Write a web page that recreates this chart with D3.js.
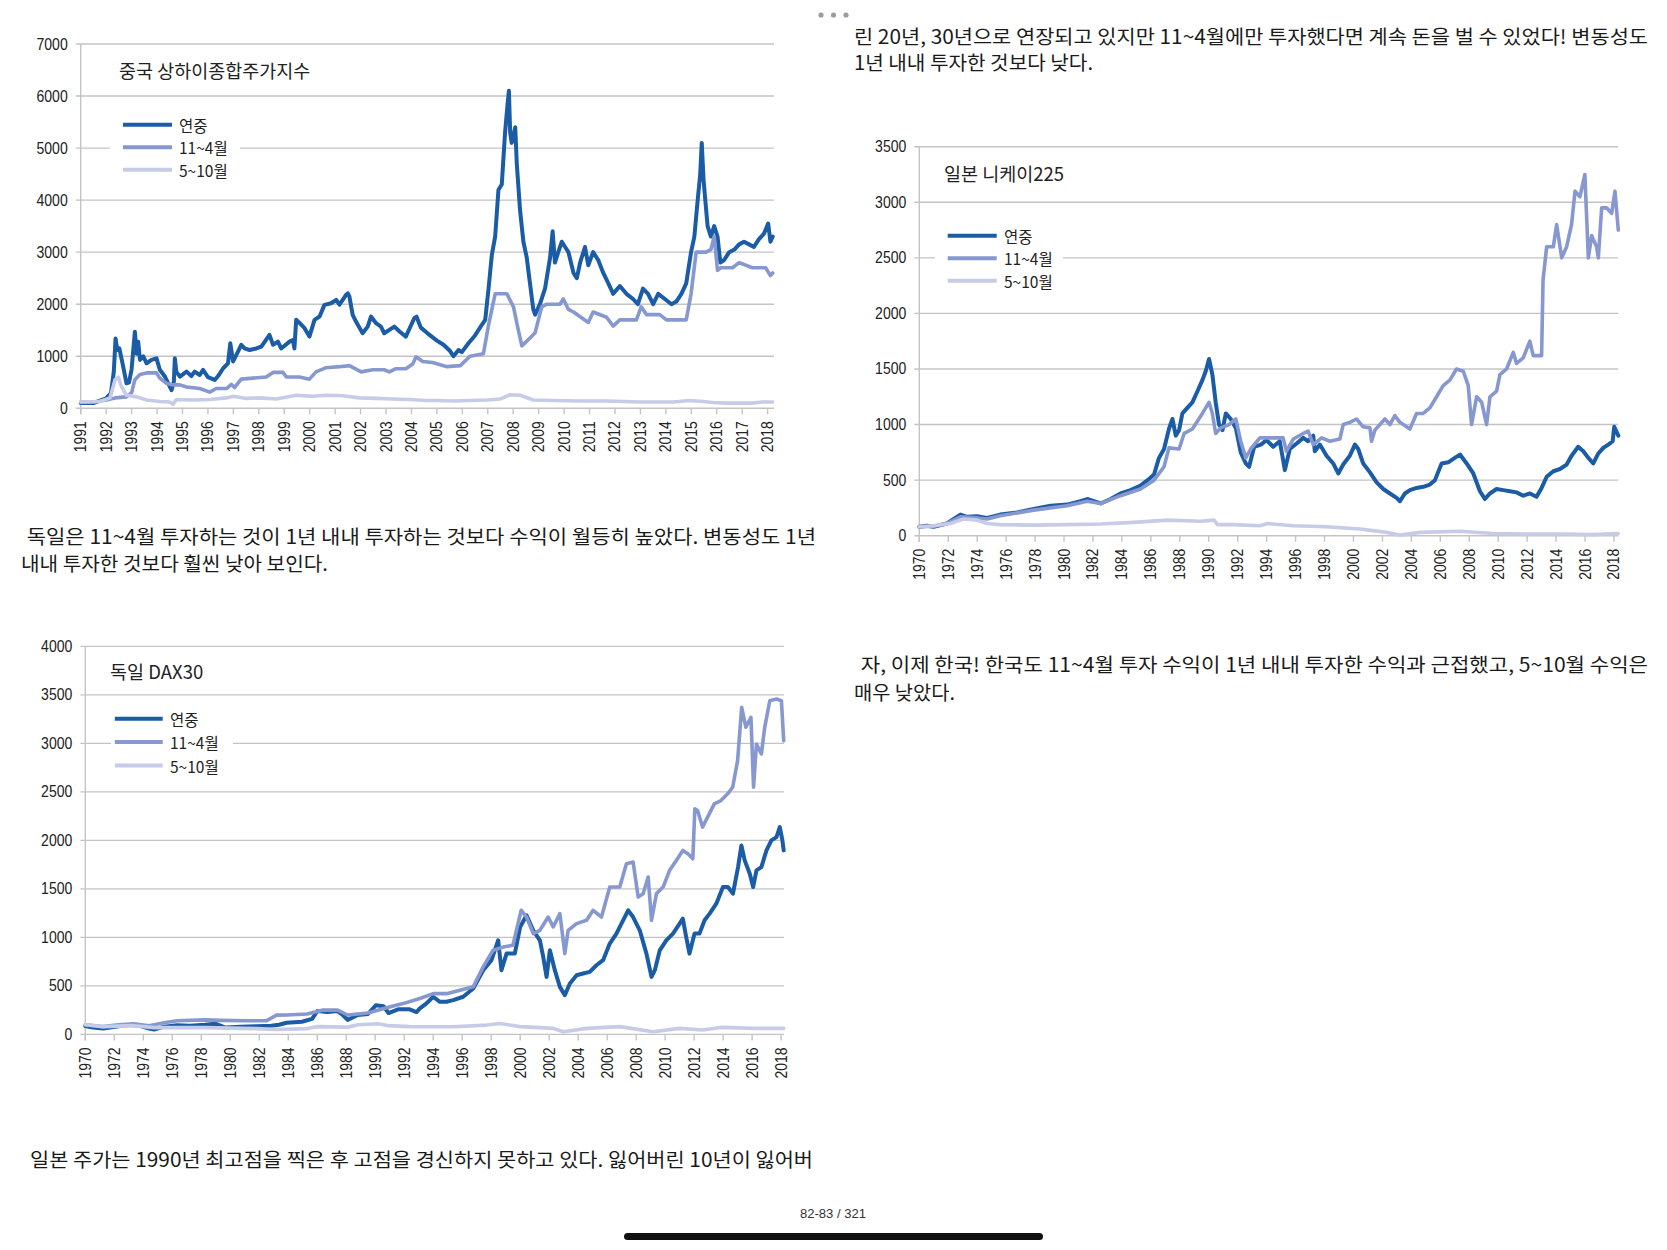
<!DOCTYPE html>
<html><head><meta charset="utf-8">
<script src="https://cdn.jsdelivr.net/npm/d3@7"></script>
<style>body{margin:0;background:#fff;overflow:hidden}</style>
</head><body>
<svg id="page" width="1667" height="1250"></svg>
<script>
// ---------- DATA ----------
const seriesNames = ["연중", "11~4월", "5~10월"];
const seriesColors = ["#1b5ca7", "#8698cf", "#c6cce8"];

// China – Shanghai Composite
const chinaYearRound = [[1991.0,100],[1991.5,100],[1992.0,190],[1992.19,290],[1992.3,700],[1992.37,1340],[1992.44,1120],[1992.52,1150],[1992.67,800],[1992.8,480],[1992.9,500],[1993.0,750],[1993.13,1470],[1993.2,1050],[1993.26,1280],[1993.33,930],[1993.46,1000],[1993.59,865],[1993.78,930],[1993.98,960],[1994.11,740],[1994.31,610],[1994.57,350],[1994.66,500],[1994.7,960],[1994.76,700],[1994.9,610],[1995.16,705],[1995.35,620],[1995.48,705],[1995.68,640],[1995.81,737],[1996.0,600],[1996.27,545],[1996.4,620],[1996.6,770],[1996.79,865],[1996.88,1250],[1996.99,900],[1997.12,1026],[1997.31,1218],[1997.44,1150],[1997.64,1120],[1997.9,1150],[1998.1,1186],[1998.42,1410],[1998.56,1220],[1998.75,1280],[1998.88,1150],[1999.21,1282],[1999.34,1314],[1999.4,1150],[1999.47,1700],[1999.6,1640],[1999.8,1540],[1999.99,1378],[2000.19,1700],[2000.39,1763],[2000.58,1987],[2000.84,2019],[2001.04,2083],[2001.17,1990],[2001.43,2180],[2001.5,2210],[2001.56,2150],[2001.69,1795],[2001.82,1667],[2002.08,1442],[2002.28,1570],[2002.41,1763],[2002.61,1635],[2002.8,1570],[2002.93,1442],[2003.13,1506],[2003.33,1570],[2003.52,1480],[2003.78,1378],[2004.11,1731],[2004.2,1760],[2004.37,1550],[2004.61,1450],[2005.0,1300],[2005.26,1220],[2005.52,1100],[2005.65,1000],[2005.85,1120],[2005.98,1080],[2006.24,1250],[2006.5,1400],[2006.76,1600],[2006.9,1700],[2007.03,2300],[2007.16,2950],[2007.29,3300],[2007.42,4200],[2007.55,4300],[2007.68,5300],[2007.77,5800],[2007.83,6100],[2007.88,5300],[2007.94,5100],[2008.08,5400],[2008.14,4700],[2008.27,3800],[2008.4,3200],[2008.53,2900],[2008.66,2400],[2008.79,1900],[2008.86,1800],[2009.05,2000],[2009.25,2300],[2009.45,2900],[2009.55,3400],[2009.64,2800],[2009.77,3000],[2009.91,3200],[2010.04,3100],[2010.17,3000],[2010.37,2600],[2010.5,2500],[2010.63,2800],[2010.82,3100],[2010.95,2750],[2011.14,3000],[2011.34,2850],[2011.54,2600],[2011.74,2400],[2011.93,2200],[2012.19,2350],[2012.45,2200],[2012.71,2100],[2012.9,2000],[2013.1,2300],[2013.3,2200],[2013.5,2000],[2013.7,2200],[2013.96,2100],[2014.22,2000],[2014.41,2050],[2014.61,2200],[2014.8,2400],[2014.99,3000],[2015.12,3300],[2015.25,4000],[2015.35,4500],[2015.41,5100],[2015.48,4400],[2015.55,4000],[2015.64,3500],[2015.77,3300],[2015.9,3500],[2016.03,3300],[2016.14,2800],[2016.29,2850],[2016.49,3000],[2016.69,3050],[2016.88,3150],[2017.07,3200],[2017.27,3150],[2017.46,3100],[2017.66,3250],[2017.85,3350],[2018.02,3550],[2018.11,3200],[2018.2,3300]];
const chinaNovApr = [[1991.0,120],[1991.5,120],[1992.0,160],[1992.35,200],[1992.8,220],[1993.0,300],[1993.13,550],[1993.33,650],[1993.59,680],[1993.98,680],[1994.11,580],[1994.37,480],[1994.63,450],[1994.9,450],[1995.16,410],[1995.68,380],[1996.07,310],[1996.33,380],[1996.73,380],[1996.92,460],[1997.05,400],[1997.31,560],[1997.77,580],[1998.29,600],[1998.56,690],[1998.95,690],[1999.08,600],[1999.6,600],[1999.99,560],[2000.25,700],[2000.65,780],[2001.17,800],[2001.56,820],[2002.02,700],[2002.48,740],[2002.93,740],[2003.13,700],[2003.39,760],[2003.78,760],[2004.05,850],[2004.18,990],[2004.44,900],[2004.83,880],[2005.4,800],[2005.92,820],[2006.3,1000],[2006.83,1050],[2007.03,1600],[2007.29,2200],[2007.75,2200],[2008.01,1950],[2008.2,1500],[2008.34,1200],[2008.66,1350],[2008.86,1450],[2009.12,1950],[2009.32,2000],[2009.84,2000],[2009.97,2100],[2010.17,1900],[2010.37,1850],[2010.95,1650],[2011.14,1850],[2011.67,1750],[2011.93,1580],[2012.19,1700],[2012.84,1700],[2013.03,1950],[2013.24,1800],[2013.76,1800],[2014.02,1700],[2014.8,1700],[2014.99,2200],[2015.19,3000],[2015.58,3000],[2015.77,3050],[2015.9,3300],[2016.03,2650],[2016.16,2700],[2016.62,2700],[2016.88,2800],[2017.4,2700],[2017.92,2700],[2018.11,2550],[2018.2,2600]];
const chinaMayOct = [[1991.0,120],[1991.76,130],[1992.15,200],[1992.35,550],[1992.48,600],[1992.6,420],[1992.8,250],[1993.2,220],[1993.59,160],[1994.11,130],[1994.5,120],[1994.63,80],[1994.76,170],[1995.42,160],[1996.07,170],[1996.73,200],[1996.99,230],[1997.51,190],[1998.03,200],[1998.69,180],[1999.47,250],[2000.12,230],[2000.65,250],[2001.3,240],[2001.95,200],[2002.61,190],[2003.26,180],[2003.92,170],[2004.57,150],[2005.0,150],[2005.65,140],[2006.96,160],[2007.5,180],[2007.88,260],[2008.27,250],[2008.79,160],[2009.57,150],[2010.63,140],[2011.67,140],[2012.97,120],[2013.5,120],[2014.28,120],[2014.93,150],[2015.45,130],[2015.84,110],[2016.36,100],[2017.4,100],[2017.79,120],[2018.2,120]];

// Japan – Nikkei 225
const japanYearRound = [[1970.0,80],[1970.53,90],[1970.99,80],[1971.91,110],[1972.38,150],[1972.84,190],[1973.3,170],[1973.99,175],[1974.68,160],[1975.6,190],[1976.76,210],[1977.91,240],[1979.07,270],[1980.22,280],[1981.14,310],[1981.6,330],[1982.53,290],[1983.22,330],[1983.91,380],[1984.6,410],[1985.29,450],[1985.87,510],[1986.22,550],[1986.56,700],[1986.91,780],[1987.25,960],[1987.49,1050],[1987.72,900],[1987.95,950],[1988.18,1100],[1988.52,1150],[1988.87,1200],[1989.22,1300],[1989.56,1400],[1989.79,1480],[1990.02,1590],[1990.25,1450],[1990.48,1200],[1990.71,1000],[1990.95,950],[1991.18,1100],[1991.52,1050],[1991.87,970],[1992.21,750],[1992.56,650],[1992.79,620],[1993.14,800],[1993.6,820],[1993.99,860],[1994.45,800],[1994.91,850],[1995.26,590],[1995.6,780],[1996.07,830],[1996.53,880],[1996.87,850],[1997.22,900],[1997.33,760],[1997.68,820],[1998.14,720],[1998.6,650],[1998.95,560],[1999.29,640],[1999.75,720],[2000.1,820],[2000.33,780],[2000.67,650],[2001.14,570],[2001.6,480],[2002.06,420],[2002.52,380],[2002.98,340],[2003.21,310],[2003.55,380],[2003.9,410],[2004.36,430],[2004.82,440],[2005.28,460],[2005.63,500],[2006.09,650],[2006.55,660],[2007.0,700],[2007.36,730],[2007.82,650],[2008.28,560],[2008.74,400],[2009.08,330],[2009.43,380],[2009.89,420],[2010.35,410],[2010.81,400],[2011.27,390],[2011.73,360],[2012.19,380],[2012.65,350],[2013.0,430],[2013.35,530],[2013.81,580],[2014.27,600],[2014.73,640],[2015.07,720],[2015.53,800],[2015.88,760],[2016.23,700],[2016.57,650],[2016.92,740],[2017.26,790],[2017.61,820],[2017.91,850],[2018.02,980],[2018.3,900]];
const japanNovApr = [[1970.0,80],[1970.99,85],[1971.91,110],[1972.84,170],[1974.0,160],[1974.68,150],[1975.6,180],[1977.91,230],[1980.22,270],[1981.6,310],[1982.53,290],[1983.91,360],[1985.29,420],[1986.22,500],[1986.91,620],[1987.25,790],[1987.95,780],[1988.3,920],[1988.87,960],[1989.56,1100],[1990.02,1200],[1990.25,1100],[1990.48,920],[1990.83,970],[1991.4,1000],[1991.87,1050],[1992.21,850],[1992.56,700],[1992.9,780],[1993.53,880],[1994.45,880],[1995.14,880],[1995.37,760],[1995.84,870],[1996.53,920],[1996.87,940],[1997.22,820],[1997.8,880],[1998.37,850],[1999.06,870],[1999.29,1000],[1999.75,1020],[2000.21,1050],[2000.67,980],[2001.14,970],[2001.25,850],[2001.48,950],[2002.17,1050],[2002.52,1000],[2002.86,1080],[2003.21,1020],[2003.67,980],[2003.9,960],[2004.36,1100],[2004.82,1100],[2005.28,1150],[2005.74,1250],[2006.2,1350],[2006.66,1400],[2007.12,1500],[2007.59,1480],[2007.93,1350],[2008.16,1000],[2008.51,1250],[2008.86,1200],[2009.2,1000],[2009.43,1250],[2009.89,1300],[2010.12,1450],[2010.58,1500],[2011.04,1650],[2011.27,1550],[2011.73,1600],[2012.19,1750],[2012.42,1620],[2013.0,1620],[2013.1,2300],[2013.35,2600],[2013.81,2600],[2014.04,2800],[2014.39,2500],[2014.73,2600],[2015.07,2800],[2015.31,3100],[2015.65,3050],[2015.99,3250],[2016.23,2500],[2016.46,2700],[2016.8,2600],[2016.92,2500],[2017.15,2950],[2017.49,2950],[2017.84,2900],[2018.07,3100],[2018.3,2750]];
const japanMayOct = [[1970.0,80],[1970.99,90],[1972.14,110],[1973.07,150],[1974.0,140],[1974.68,110],[1975.6,100],[1977.91,95],[1980.22,100],[1982.53,105],[1984.83,120],[1987.14,140],[1989.45,130],[1990.37,140],[1990.6,100],[1991.75,100],[1993.53,90],[1994.06,110],[1995.84,90],[1998.14,80],[2000.45,60],[2002.29,30],[2003.21,5],[2004.59,30],[2007.36,40],[2009.66,20],[2011.96,15],[2014.27,15],[2016.57,10],[2018.3,20]];

// Germany – DAX30
const germanyYearRound = [[1970.0,85],[1970.53,70],[1971.23,60],[1972.29,85],[1973.16,100],[1973.69,90],[1974.4,60],[1974.75,50],[1975.45,80],[1976.33,95],[1977.21,90],[1978.26,100],[1978.97,110],[1979.67,70],[1980.72,80],[1981.78,85],[1982.83,90],[1983.36,100],[1983.89,120],[1984.94,130],[1985.65,160],[1986.0,240],[1986.7,230],[1987.4,240],[1987.76,200],[1988.1,150],[1988.8,200],[1989.5,210],[1990.04,300],[1990.57,290],[1990.92,220],[1991.62,260],[1992.33,260],[1992.85,230],[1993.08,268],[1993.54,320],[1994.0,388],[1994.46,336],[1994.92,336],[1995.38,353],[1996.07,388],[1996.76,473],[1997.45,662],[1998.02,765],[1998.48,970],[1998.71,662],[1999.06,833],[1999.63,833],[2000.0,1108],[2000.44,1228],[2000.9,1073],[2001.36,970],[2001.59,800],[2001.82,593],[2002.05,867],[2002.39,662],[2002.74,490],[2003.08,405],[2003.43,525],[2003.89,610],[2004.34,628],[2004.8,645],[2005.26,713],[2005.72,765],[2006.18,936],[2006.64,1039],[2007.1,1176],[2007.45,1279],[2007.79,1210],[2008.25,1073],[2008.71,833],[2009.06,593],[2009.29,662],[2009.63,867],[2010.08,970],[2010.54,1039],[2011.0,1142],[2011.22,1193],[2011.45,1005],[2011.68,833],[2012.03,1039],[2012.37,1039],[2012.72,1176],[2013.07,1245],[2013.53,1348],[2013.99,1519],[2014.33,1519],[2014.68,1451],[2015.03,1725],[2015.26,1948],[2015.49,1794],[2015.84,1657],[2016.07,1519],[2016.3,1691],[2016.64,1725],[2016.99,1897],[2017.33,2000],[2017.68,2034],[2017.91,2137],[2018.09,2000],[2018.18,1897]];
const germanyNovApr = [[1970.0,100],[1971.23,80],[1972.29,100],[1973.34,110],[1974.4,90],[1975.45,120],[1976.33,140],[1978.26,150],[1979.32,145],[1981.08,140],[1982.48,140],[1983.19,199],[1983.89,200],[1985.3,210],[1986.35,250],[1987.4,250],[1988.1,200],[1989.5,220],[1990.92,280],[1991.98,320],[1993.08,370],[1994.0,420],[1994.92,420],[1995.84,456],[1996.76,490],[1997.45,696],[1998.13,868],[1998.82,900],[1999.5,920],[2000.07,1280],[2000.44,1210],[2000.9,1040],[2001.36,1073],[2001.93,1210],[2002.28,1108],[2002.74,1245],[2003.08,833],[2003.31,1073],[2003.89,1142],[2004.58,1176],[2005.03,1279],[2005.61,1210],[2006.18,1519],[2006.87,1519],[2007.33,1760],[2007.79,1777],[2008.14,1417],[2008.48,1451],[2008.83,1622],[2009.06,1176],[2009.4,1451],[2009.86,1519],[2010.31,1691],[2010.77,1794],[2011.22,1897],[2011.57,1862],[2011.91,1811],[2012.05,2325],[2012.24,2308],[2012.58,2137],[2012.93,2240],[2013.39,2377],[2013.85,2411],[2014.31,2480],[2014.66,2548],[2015.0,2823],[2015.28,3372],[2015.57,3166],[2015.92,3269],[2016.1,2548],[2016.3,2994],[2016.64,2891],[2016.87,3166],[2017.22,3440],[2017.68,3457],[2018.02,3440],[2018.18,3029]];
const germanyMayOct = [[1970.0,100],[1971.23,80],[1973.34,90],[1974.75,70],[1978.26,70],[1981.78,60],[1983.19,50],[1985.3,60],[1986.0,80],[1988.1,75],[1988.8,100],[1990.2,110],[1990.92,90],[1992.33,80],[1993.08,79],[1995.38,79],[1997.68,96],[1998.6,113],[2000.0,80],[2002.28,62],[2002.97,27],[2004.58,62],[2006.87,80],[2009.17,27],[2011.0,62],[2012.6,45],[2013.85,72],[2016.15,62],[2018.18,62]];

const chinaXTicks = d3.range(1991, 2019, 1);
const japanXTicks = d3.range(1970, 2019, 2);
const germanyXTicks = d3.range(1970, 2019, 2);
const chinaYTicks = d3.range(0, 7001, 1000);
const japanYTicks = d3.range(0, 3501, 500);
const germanyYTicks = d3.range(0, 4001, 500);

const titles = ["중국 상하이종합주가지수", "일본 니케이225", "독일 DAX30"];

const paragraphs = [
  "린 20년, 30년으로 연장되고 있지만 11~4월에만 투자했다면 계속 돈을 벌 수 있었다! 변동성도",
  "1년 내내 투자한 것보다 낮다.",
  " 독일은 11~4월 투자하는 것이 1년 내내 투자하는 것보다 수익이 월등히 높았다. 변동성도 1년",
  "내내 투자한 것보다 훨씬 낮아 보인다.",
  " 자, 이제 한국! 한국도 11~4월 투자 수익이 1년 내내 투자한 수익과 근접했고, 5~10월 수익은",
  "매우 낮았다.",
  "일본 주가는 1990년 최고점을 찍은 후 고점을 경신하지 못하고 있다. 잃어버린 10년이 잃어버"
];
const pageLabel = "82-83 / 321";

// ---------- DRAW ----------
const svg = d3.select("#page");
svg.append("rect").attr("width",1667).attr("height",1250).attr("fill","#fff");

const tickFont = "'Liberation Sans','Arimo',Arial,sans-serif";
const krFont = "'Noto Sans CJK KR','Noto Sans CJK SC',sans-serif";

function drawChart(cfg){
  const g = svg.append("g");
  const x = d3.scaleLinear().domain(cfg.xDomain).range([cfg.left, cfg.right]);
  const y = d3.scaleLinear().domain(cfg.yDomain).range([cfg.bottom, cfg.top]);
  const grid = "#c4c4c4";
  g.selectAll("line.grid").data(cfg.yTicks).join("line")
    .attr("x1", cfg.left - 5).attr("x2", cfg.right)
    .attr("y1", d => y(d)).attr("y2", d => y(d))
    .attr("stroke", grid).attr("stroke-width", 1.4);
  g.append("line").attr("x1", cfg.left).attr("x2", cfg.left)
    .attr("y1", y(cfg.yDomain[1])).attr("y2", cfg.bottom + 6)
    .attr("stroke", grid).attr("stroke-width", 1.4);
  g.selectAll("line.xt").data(cfg.xTicks).join("line")
    .attr("x1", d => x(d)).attr("x2", d => x(d))
    .attr("y1", cfg.bottom).attr("y2", cfg.bottom + 6)
    .attr("stroke", grid).attr("stroke-width", 1.4);
  g.selectAll("text.yl").data(cfg.yTicks).join("text")
    .attr("x", cfg.left - 13).attr("y", d => y(d))
    .attr("text-anchor", "end").attr("dominant-baseline", "central")
    .attr("font-family", tickFont).attr("font-size", 17).attr("fill", "#222")
    .attr("textLength", d => String(d).length * 7.8).attr("lengthAdjust", "spacingAndGlyphs")
    .text(d => d);
  g.selectAll("text.xl").data(cfg.xTicks).join("text")
    .attr("transform", d => `translate(${x(d)},${cfg.bottom + 13}) rotate(-90)`)
    .attr("text-anchor", "end").attr("dominant-baseline", "central")
    .attr("font-family", tickFont).attr("font-size", 17).attr("fill", "#222")
    .attr("textLength", 31).attr("lengthAdjust", "spacingAndGlyphs")
    .text(d => d);
  g.append("rect").attr("x", cfg.legBox[0]).attr("y", cfg.legBox[1])
    .attr("width", cfg.legBox[2]).attr("height", cfg.legBox[3]).attr("fill", "#fff");
  const line = d3.line().x(d => x(d[0])).y(d => y(d[1])).curve(d3.curveLinear);
  cfg.series.forEach((s, i) => {
    g.append("path").datum(s).attr("d", line)
      .attr("fill", "none").attr("stroke", seriesColors[i])
      .attr("stroke-width", i === 0 ? 4 : 3.6)
      .attr("stroke-linejoin", "round").attr("stroke-linecap", "round");
  });
  g.append("text").attr("x", cfg.title[0]).attr("y", cfg.title[1])
    .attr("dominant-baseline", "central")
    .attr("font-family", krFont).attr("font-size", 18.5).attr("font-weight", 400).attr("fill", "#222")
    .text(cfg.titleText);
  seriesNames.forEach((n, i) => {
    g.append("line").attr("x1", cfg.leg.x1).attr("x2", cfg.leg.x2)
      .attr("y1", cfg.leg.ys[i]).attr("y2", cfg.leg.ys[i])
      .attr("stroke", seriesColors[i]).attr("stroke-width", 4);
    g.append("text").attr("x", cfg.leg.tx).attr("y", cfg.leg.ys[i])
      .attr("dominant-baseline", "central")
      .attr("font-family", krFont).attr("font-size", 15.5).attr("fill", "#222")
      .text(n);
  });
}

drawChart({
  left: 80.7, right: 774, top: 44, bottom: 408.3,
  xDomain: [1991, 2018.25], yDomain: [0, 7000],
  xTicks: chinaXTicks, yTicks: chinaYTicks,
  series: [chinaYearRound, chinaNovApr, chinaMayOct],
  titleText: titles[0], title: [119, 70],
  legBox: [110, 112, 130, 70],
  leg: { x1: 123, x2: 172, ys: [124.7, 147.3, 169.7], tx: 179 }
});
drawChart({
  left: 919.3, right: 1618.3, top: 146.7, bottom: 535.7,
  xDomain: [1970, 2018.3], yDomain: [0, 3500],
  xTicks: japanXTicks, yTicks: japanYTicks,
  series: [japanYearRound, japanNovApr, japanMayOct],
  titleText: titles[1], title: [944, 173],
  legBox: [935, 222, 128, 72],
  leg: { x1: 947.7, x2: 996.7, ys: [235.7, 258.3, 280.7], tx: 1004 }
});
drawChart({
  left: 85.3, right: 784, top: 646.4, bottom: 1034.4,
  xDomain: [1970, 2018.2], yDomain: [0, 4000],
  xTicks: germanyXTicks, yTicks: germanyYTicks,
  series: [germanyYearRound, germanyNovApr, germanyMayOct],
  titleText: titles[2], title: [110, 671],
  legBox: [111, 706, 122, 72],
  leg: { x1: 114.8, x2: 162.7, ys: [718.7, 742, 765.5], tx: 170 }
});

const paraPos = [
  [854, 35, 794], [854, 61, 239],
  [22, 535, 794], [21, 562, 307],
  [856, 663, 792], [854, 691, 101],
  [30, 1158, 783]
];
paragraphs.forEach((t, i) => {
  const p = paraPos[i];
  svg.append("text").attr("x", p[0]).attr("y", p[1])
    .attr("dominant-baseline", "central")
    .attr("font-family", krFont).attr("font-size", 19.5).attr("fill", "#1a1a1a")
    .attr("xml:space", "preserve").style("white-space", "pre")
    .attr("textLength", p[2]).attr("lengthAdjust", "spacingAndGlyphs")
    .text(t);
});

svg.selectAll("circle.dot").data([0, 1, 2]).join("circle")
  .attr("cx", d => 821 + d * 12.5).attr("cy", 15).attr("r", 2.6).attr("fill", "#9c9c9c");

svg.append("text").attr("x", 833).attr("y", 1213).attr("text-anchor", "middle")
  .attr("dominant-baseline", "central").attr("font-family", tickFont)
  .attr("font-size", 13).attr("fill", "#333")
  .attr("textLength", 66).attr("lengthAdjust", "spacingAndGlyphs")
  .text(pageLabel);

svg.append("rect").attr("x", 624).attr("y", 1233).attr("width", 419).attr("height", 7)
  .attr("rx", 3.5).attr("fill", "#111");
</script>
</body></html>
